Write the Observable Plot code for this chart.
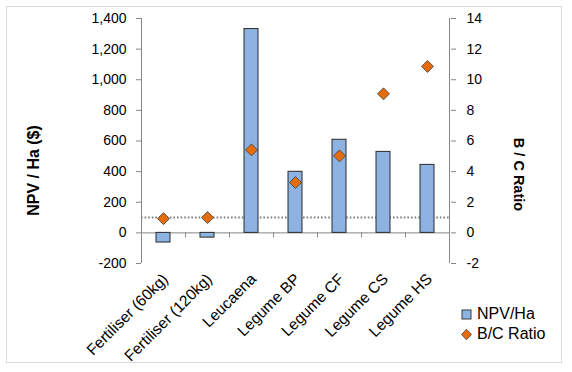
<!DOCTYPE html>
<html>
<head>
<meta charset="utf-8">
<script src="https://cdn.jsdelivr.net/npm/d3@7"></script>
<script src="https://cdn.jsdelivr.net/npm/@observablehq/plot@0.6"></script>
<style>
  html, body { margin: 0; padding: 0; background: #fff; }
  #wrap { position: relative; width: 572px; height: 372px; font-family: "Liberation Sans", Arial, sans-serif; }
  #border { position: absolute; left: 6px; top: 6px; width: 556px; height: 357px; border: 1px solid #d9d9d9; box-sizing: border-box; pointer-events: none; }
  #legend { position: absolute; left: 461px; top: 304px; font-size: 16px; color: #000; }
  #legend .row { display: flex; align-items: center; height: 20px; }
  #legend svg { margin-right: 5px; }
</style>
</head>
<body>
<div id="wrap">
  <div id="chart"></div>
  <div id="border"></div>
  <div id="legend">
    <div class="row"><svg width="11" height="11"><rect x="1" y="1" width="9" height="9" fill="#8DB3E2" stroke="#3a3a3a" stroke-width="1"/></svg><span>NPV/Ha</span></div>
    <div class="row"><svg width="11" height="13"><path d="M5.5,1.2 L10.5,6.5 L5.5,11.8 L0.5,6.5 Z" fill="#E46C0A" stroke="#3f3f3f" stroke-width="0.8"/></svg><span>B/C Ratio</span></div>
  </div>
</div>
<script>
const categories = ["Fertiliser (60kg)", "Fertiliser (120kg)", "Leucaena", "Legume BP", "Legume CF", "Legume CS", "Legume HS"];
const npv = [-63, -31, 1331, 399, 608, 529, 444];
const bcRatio = [0.93, 1.0, 5.42, 3.29, 5.03, 9.08, 10.87];
const npvTicks = [-200, 0, 200, 400, 600, 800, 1000, 1200, 1400];
const ratioTicks = [-2, 0, 2, 4, 6, 8, 10, 12, 14];
const ratioThreshold = [1];
const ratioScale = 100; // right axis value × 100 = left axis value

const rows = categories.map((c, i) => ({cat: c, npv: npv[i], bc: bcRatio[i] * ratioScale}));
const fmt = d => d.toLocaleString("en-US");

const base = {
  width: 572,
  height: 372,
  marginLeft: 141,
  marginRight: 122,
  marginTop: 18,
  marginBottom: 109,
  style: {fontFamily: "'Liberation Sans', Arial, sans-serif", fontSize: "14px", color: "#000", background: "transparent"},
  x: {type: "band", domain: categories, paddingInner: 0.68, paddingOuter: 0.34},
  y: {domain: [-200, 1400]}
};

const step = Plot.plot({...base, marks: [Plot.ruleY([0])]}).scale("x").step;
const axisColor = "#868686";

const chart = Plot.plot({
  ...base,
  marks: [
    Plot.axisY({anchor: "left", ticks: npvTicks, tickFormat: fmt, tickSize: 5, tickPadding: 10, stroke: axisColor, label: null}),
    Plot.axisY({anchor: "right", ticks: ratioTicks.map(t => t * ratioScale), tickFormat: d => fmt(d / ratioScale), tickSize: 5, tickPadding: 11, stroke: axisColor, label: null}),
    Plot.axisX({anchor: "bottom", tickSize: 0, tickPadding: 13, tickRotate: -45, dx: 2, fontSize: 15.5, label: null}),
    Plot.text(["NPV / Ha ($)"], {frameAnchor: "left", textAnchor: "middle", rotate: -90, dx: -108, dy: 29.5, fontWeight: "bold", fontSize: 16}),
    Plot.text(["B / C Ratio"], {frameAnchor: "right", textAnchor: "middle", rotate: 90, dx: 68.5, dy: 33.5, fontWeight: "bold", fontSize: 14.5}),
    Plot.ruleX([categories[0]], {x: d => d, dx: -step / 2, y1: -200, y2: 1400, stroke: axisColor}),
    Plot.ruleX([categories[categories.length - 1]], {x: d => d, dx: step / 2, y1: -200, y2: 1400, stroke: axisColor}),
    Plot.ruleX(categories.slice(1), {x: d => d, dx: -step / 2, y1: 0, y2: 0, insetBottom: -5, stroke: axisColor}),
    Plot.ruleY(ratioThreshold.map(v => v * ratioScale), {stroke: "#7f7f7f", strokeWidth: 2, strokeDasharray: "1.6,2"}),
    Plot.ruleY([0], {stroke: axisColor}),
    Plot.barY(rows, {x: "cat", y: "npv", fill: "#8DB3E2", stroke: "#2a2a2a", strokeWidth: 1}),
    Plot.dot(rows, {x: "cat", y: "bc", symbol: "diamond2", r: 5.4, fill: "#E46C0A", stroke: "#3f3f3f", strokeWidth: 0.8})
  ]
});
document.getElementById("chart").appendChild(chart);
</script>
</body>
</html>
